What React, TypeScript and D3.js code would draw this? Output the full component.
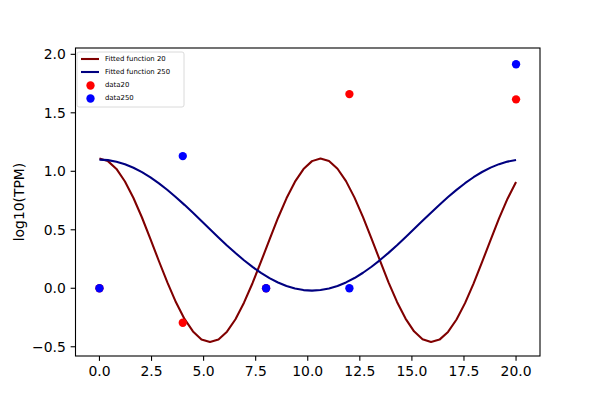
import React from "react";
import * as d3 from "d3";

const fitX: number[] = d3.range(50).map((i) => (i * 20) / 49);
const fit20: number[] = [
  1.11, 1.087, 1.02, 0.913, 0.772, 0.605, 0.42, 0.231, 0.048, -0.12,
  -0.262, -0.369, -0.437, -0.46, -0.438, -0.371, -0.265, -0.123, 0.043, 0.227,
  0.416, 0.601, 0.769, 0.911, 1.019, 1.087, 1.11, 1.088, 1.022, 0.916,
  0.775, 0.608, 0.425, 0.236, 0.051, -0.117, -0.259, -0.368, -0.436, -0.46,
  -0.439, -0.373, -0.267, -0.127, 0.04, 0.223, 0.412, 0.597, 0.766, 0.908,
];
const fit250: number[] = [
  1.1, 1.0956, 1.0824, 1.0607, 1.0307, 0.993, 0.9482, 0.8969, 0.8399, 0.7782,
  0.7131, 0.6446, 0.5749, 0.5045, 0.4348, 0.3664, 0.3013, 0.2396, 0.1827, 0.1315,
  0.0867, 0.0491, 0.0192, -0.0025, -0.0156, -0.02, -0.0155, -0.0022, 0.0197, 0.0499,
  0.0877, 0.1326, 0.184, 0.241, 0.3027, 0.368, 0.4365, 0.5062, 0.5766, 0.6462,
  0.7146, 0.7797, 0.8413, 0.8981, 0.9492, 0.9939, 1.0315, 1.0612, 1.0828, 1.0957,
];
const dataX: number[] = [0, 4, 8, 12, 20];
const data20: number[] = [0, -0.295, 0, 1.66, 1.615];
const data250: number[] = [0, 1.13, 0, 0, 1.915];

const xTicks: number[] = [0, 2.5, 5, 7.5, 10, 12.5, 15, 17.5, 20];
const yTicks: number[] = [-0.5, 0, 0.5, 1, 1.5, 2];
const xDomain: [number, number] = [-1.15, 21.15];
const yDomain: [number, number] = [-0.579, 2.054];

const legendItems = [
  { label: "Fitted function 20", type: "line", color: "#800000" },
  { label: "Fitted function 250", type: "line", color: "#000080" },
  { label: "data20", type: "dot", color: "#ff0000" },
  { label: "data250", type: "dot", color: "#0000ff" },
];

const W = 600, H = 400;
const L = 75.5, R = 540, T = 48, B = 356;
const font = "DejaVu Sans, sans-serif";
const fmt = (v: number) => d3.format(".1f")(v).replace("-", "\u2212");

export default function App() {
  const x = d3.scaleLinear().domain(xDomain).range([L, R]);
  const y = d3.scaleLinear().domain(yDomain).range([B, T]);
  const line = d3
    .line<number>()
    .x((_, i) => x(fitX[i]))
    .y((d) => y(d));
  const r = 4.17;
  return (
    <svg
      width={W}
      height={H}
      style={{ position: "absolute", left: 0, top: 0, background: "#fff" }}
      fontFamily={font}
    >
      <rect x={0} y={0} width={W} height={H} fill="#fff" />
      <defs>
        <clipPath id="clip">
          <rect x={L} y={T} width={R - L} height={B - T} />
        </clipPath>
      </defs>
      <g clipPath="url(#clip)">
        <path d={line(fit20) || ""} fill="none" stroke="#800000" strokeWidth={2.08} strokeLinejoin="round" />
        <path d={line(fit250) || ""} fill="none" stroke="#000080" strokeWidth={2.08} strokeLinejoin="round" />
        {dataX.map((v, i) => (
          <circle key={"r" + i} cx={x(v)} cy={y(data20[i])} r={r} fill="#ff0000" />
        ))}
        {dataX.map((v, i) => (
          <circle key={"b" + i} cx={x(v)} cy={y(data250[i])} r={r} fill="#0000ff" />
        ))}
      </g>
      <rect x={L} y={T} width={R - L} height={B - T} fill="none" stroke="#000" strokeWidth={1.1} />
      {xTicks.map((t) => (
        <g key={"xt" + t}>
          <line x1={x(t)} x2={x(t)} y1={B} y2={B + 4.86} stroke="#000" strokeWidth={1.1} />
          <text x={x(t)} y={B + 9.7} fontSize={13.9} textAnchor="middle" dominantBaseline="hanging" fill="#000">
            {fmt(t)}
          </text>
        </g>
      ))}
      {yTicks.map((t) => (
        <g key={"yt" + t}>
          <line x1={L} x2={L - 4.86} y1={y(t)} y2={y(t)} stroke="#000" strokeWidth={1.1} />
          <text x={L - 9.7} y={y(t)} fontSize={13.9} textAnchor="end" dominantBaseline="central" fill="#000">
            {fmt(t)}
          </text>
        </g>
      ))}
      <text
        transform={`translate(18.5,${(T + B) / 2}) rotate(-90)`}
        fontSize={13.9}
        textAnchor="middle"
        dominantBaseline="central"
        fill="#000"
      >
        log10(TPM)
      </text>
      <g>
        <rect x={77} y={52} width={107} height={55} rx={2} fill="#fff" fillOpacity={0.8} stroke="#d0d0d0" strokeWidth={0.8} />
        {legendItems.map((it, i) => {
          const cy = 59 + i * 13;
          return (
            <g key={it.label}>
              {it.type === "line" ? (
                <line x1={81} x2={99} y1={cy} y2={cy} stroke={it.color} strokeWidth={2.08} />
              ) : (
                <circle cx={90.5} cy={cy + 0.5} r={r} fill={it.color} />
              )}
              <text x={105} y={cy} fontSize={6.9} dominantBaseline="central" fill="#000">
                {it.label}
              </text>
            </g>
          );
        })}
      </g>
    </svg>
  );
}
